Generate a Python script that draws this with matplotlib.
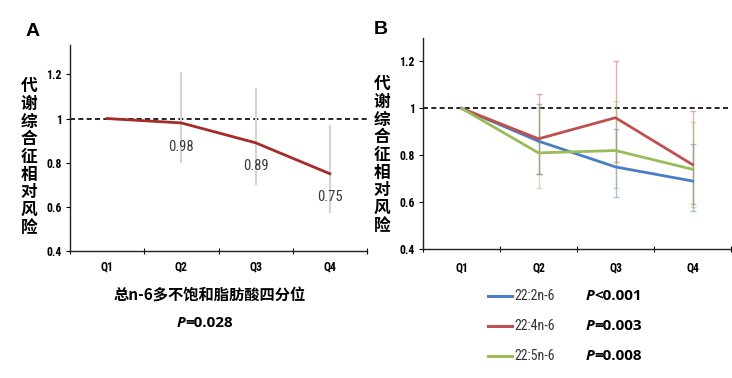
import matplotlib
matplotlib.use("Agg")
import matplotlib.pyplot as plt
from matplotlib import font_manager
from matplotlib.ticker import FuncFormatter

# ---------------- data ----------------
quartiles = ["Q1", "Q2", "Q3", "Q4"]

total_rr = [1.00, 0.98, 0.89, 0.75]
total_lo = [1.00, 0.80, 0.70, 0.57]
total_hi = [1.00, 1.21, 1.14, 0.97]
total_labels = ["", "0.98", "0.89", "0.75"]

series_names = ["22:2n-6", "22:4n-6", "22:5n-6"]
series_p = ["<0.001", "=0.003", "=0.008"]
rr_222 = [1.00, 0.86, 0.75, 0.69]
lo_222 = [1.00, 0.72, 0.62, 0.56]
hi_222 = [1.00, 1.02, 0.91, 0.85]
rr_224 = [1.00, 0.87, 0.96, 0.76]
lo_224 = [1.00, 0.72, 0.77, 0.59]
hi_224 = [1.00, 1.06, 1.20, 0.99]
rr_225 = [1.00, 0.81, 0.82, 0.74]
lo_225 = [1.00, 0.66, 0.66, 0.58]
hi_225 = [1.00, 1.00, 1.03, 0.94]

ylabel_text = "代谢综合征相对风险"
xlabel_a = "总n-6多不饱和脂肪酸四分位"
p_a = "=0.028"

# ---------------- fonts ----------------
avail = {f.name for f in font_manager.fontManager.ttflist}
def pick(*names):
    for n in names:
        if n in avail:
            return n
    return "DejaVu Sans"

NARROW = pick("Roboto Condensed", "PT Sans Narrow", "Archivo Narrow", "Liberation Sans")
SANS = pick("Liberation Sans", "DejaVu Sans")
CJK = ["Noto Sans CJK SC", "DejaVu Sans"]
OPEN = pick("Open Sans", "Noto Sans", "DejaVu Sans")

plt.rcParams["font.family"] = [NARROW, "DejaVu Sans"]

fig = plt.figure(figsize=(7.32, 3.78), dpi=100)
W, H = 732, 378

def axes_px(l, t, r, b):
    return fig.add_axes([l / W, 1 - b / H, (r - l) / W, (b - t) / H])

axA = axes_px(70, 45, 367, 251)
axB = axes_px(423, 38, 731, 249)

x = list(range(len(quartiles)))

def style(ax, ytop, pad):
    ax.set_xlim(-0.5, 3.5)
    ax.set_ylim(0.4, ytop)
    for s in ("top", "right"):
        ax.spines[s].set_visible(False)
    for s in ("left", "bottom"):
        ax.spines[s].set_color("#222222")
        ax.spines[s].set_linewidth(1.0)
    ax.set_yticks([0.4, 0.6, 0.8, 1.0, 1.2])
    ax.yaxis.set_major_formatter(FuncFormatter(lambda v, p: "1" if abs(v - 1) < 1e-9 else f"{v:.1f}"))
    ax.tick_params(axis="y", length=3, width=0.8, labelsize=8.5, pad=3)
    ax.set_xticks(x)
    ax.set_xticklabels(quartiles, fontweight="bold")
    ax.tick_params(axis="x", which="major", length=0, labelsize=8.5, pad=pad)
    ax.set_xticks([-0.5, 0.5, 1.5, 2.5, 3.5], minor=True)
    ax.tick_params(axis="x", which="minor", length=5, width=0.8, direction="inout")
    for lab in ax.get_yticklabels():
        lab.set_fontweight("bold")
    ax.axhline(1.0, color="black", lw=1.2, ls=(0, (3, 2)), zorder=1)

style(axA, 1.333, 7)
style(axB, 1.30, 9)

# ---- panel A ----
errA = [[r - l for r, l in zip(total_rr, total_lo)], [h - r for r, h in zip(total_rr, total_hi)]]
axA.errorbar(x[1:], total_rr[1:], yerr=[errA[0][1:], errA[1][1:]], fmt="none",
             ecolor="#d4d4d4", elinewidth=1.5, capsize=0, zorder=2)
axA.plot(x, total_rr, color="#a52a2a", lw=2.0, zorder=3)
for xi, yi, lab in zip(x, total_rr, total_labels):
    if lab:
        axA.annotate(lab, (xi, yi), xytext=(0, -17), textcoords="offset points",
                     ha="center", va="center", fontsize=10.5, color="#3a3a3a")

# ---- panel B ----
colors = ["#4a7ec4", "#c0504d", "#9bbb59"]
rrs = [rr_222, rr_224, rr_225]
los = [lo_222, lo_224, lo_225]
his = [hi_222, hi_224, hi_225]
for rr, lo, hi, c in zip(rrs, los, his, colors):
    yerr = [[r - l for r, l in zip(rr[1:], lo[1:])], [h - r for r, h in zip(rr[1:], hi[1:])]]
    axB.errorbar(x[1:], rr[1:], yerr=yerr, fmt="none", ecolor=c, alpha=0.45,
                 elinewidth=1.0, capsize=2, capthick=1.0, zorder=2)
for rr, c in zip(rrs, colors):
    axB.plot(x, rr, color=c, lw=2.0, zorder=3)

# ---- texts ----
fig.text(33 / W, 1 - 32 / H, "A", fontsize=14, fontweight="bold", family=SANS, ha="center", va="center")
fig.text(381 / W, 1 - 30 / H, "B", fontsize=14, fontweight="bold", family=SANS, ha="center", va="center")

for xc, yc in [(29, 157), (382, 155)]:
    fig.text(xc / W, 1 - yc / H, "\n".join(ylabel_text), family=CJK, fontsize=12,
             fontweight="bold", ha="center", va="center", linespacing=0.98)

fig.text(210 / W, 1 - 296 / H, xlabel_a, family=CJK, fontsize=11, fontweight="bold",
         ha="center", va="center")

def ptext(xsplit, yc, rest):
    fig.text(xsplit / W, 1 - yc / H, "P", family=OPEN, fontsize=11, fontweight="bold",
             style="italic", ha="right", va="center")
    fig.text(xsplit / W, 1 - yc / H, rest, family=OPEN, fontsize=11, fontweight="bold",
             ha="left", va="center")

ptext(185, 323, p_a)

rows_y = [296, 326, 356]
for name, p, c, yc in zip(series_names, series_p, colors, rows_y):
    fig.add_artist(plt.Line2D([488 / W, 512 / W], [1 - yc / H, 1 - yc / H], color=c, lw=2.2,
                              transform=fig.transFigure))
    fig.text(514 / W, 1 - yc / H, name, fontsize=10, color="#333333", ha="left", va="center")
    ptext(594, yc, p)

fig.savefig("out.png", dpi=100)
